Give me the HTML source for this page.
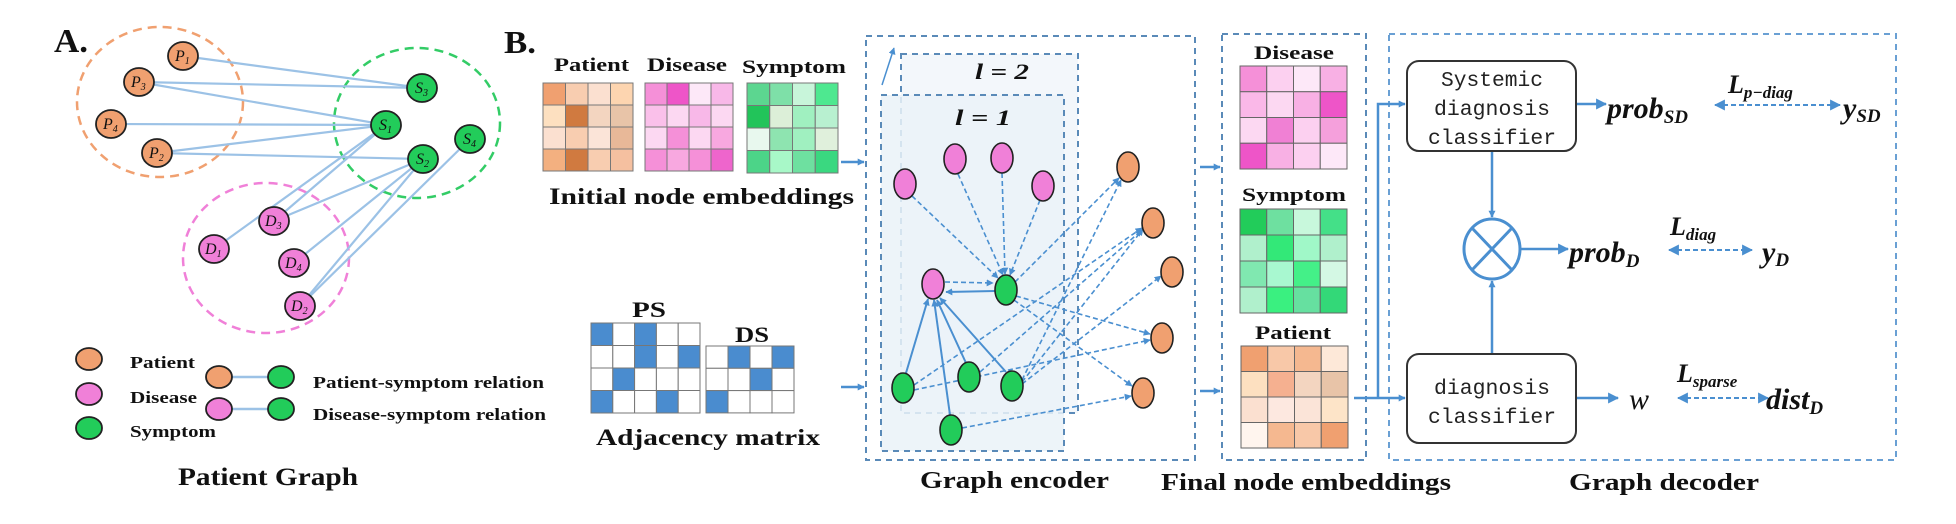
<!DOCTYPE html>
<html><head><meta charset="utf-8"><style>
html,body{margin:0;padding:0;background:#fff;}
svg{display:block;}
text{font-family:"Liberation Serif",serif;font-weight:bold;fill:#111;}
.mono{font-family:"Liberation Mono",monospace;font-weight:normal;fill:#222;}
.nl{font-style:italic;font-weight:normal;}
</style></head><body>
<svg width="1956" height="524" viewBox="0 0 1956 524" xmlns="http://www.w3.org/2000/svg">
<defs>
<marker id="ah" viewBox="0 0 10 10" refX="9" refY="5" markerWidth="7" markerHeight="7" orient="auto-start-reverse" markerUnits="userSpaceOnUse"><path d="M0,0 L10,5 L0,10 z" fill="#4a8fd0"/></marker>
<marker id="ahs" viewBox="0 0 10 10" refX="9" refY="5" markerWidth="11" markerHeight="11" orient="auto-start-reverse" markerUnits="userSpaceOnUse"><path d="M0,0 L10,5 L0,10 z" fill="#4a8fd0"/></marker>
</defs>

<!-- ===== Part A ===== -->
<text x="54" y="52" font-size="34" textLength="34" lengthAdjust="spacingAndGlyphs">A.</text>
<g fill="none" stroke-width="2.5" stroke-dasharray="9,6">
<ellipse cx="160" cy="102" rx="83" ry="75" stroke="#f0a070"/>
<ellipse cx="417" cy="123" rx="83" ry="75" stroke="#33cc66"/>
<ellipse cx="266" cy="258" rx="83" ry="75" stroke="#f080d8"/>
</g>
<g stroke="#9cc2e6" stroke-width="2.2">
<line x1="183" y1="56" x2="422" y2="88"/>
<line x1="139" y1="82" x2="422" y2="88"/>
<line x1="139" y1="82" x2="386" y2="125"/>
<line x1="111" y1="124" x2="386" y2="125"/>
<line x1="157" y1="153" x2="386" y2="125"/>
<line x1="157" y1="153" x2="423" y2="159"/>
<line x1="386" y1="125" x2="274" y2="221"/>
<line x1="386" y1="125" x2="214" y2="249"/>
<line x1="423" y1="159" x2="274" y2="221"/>
<line x1="423" y1="159" x2="294" y2="263"/>
<line x1="423" y1="159" x2="300" y2="306"/>
<line x1="470" y1="139" x2="300" y2="306"/>
</g>
<g stroke="#222" stroke-width="1.8">
<ellipse cx="183" cy="56" rx="15" ry="14" fill="#f0a070"/>
<ellipse cx="139" cy="82" rx="15" ry="14" fill="#f0a070"/>
<ellipse cx="111" cy="124" rx="15" ry="14" fill="#f0a070"/>
<ellipse cx="157" cy="153" rx="15" ry="14" fill="#f0a070"/>
<ellipse cx="422" cy="88" rx="15" ry="14" fill="#22cc5a"/>
<ellipse cx="386" cy="125" rx="15" ry="14" fill="#22cc5a"/>
<ellipse cx="470" cy="139" rx="15" ry="14" fill="#22cc5a"/>
<ellipse cx="423" cy="159" rx="15" ry="14" fill="#22cc5a"/>
<ellipse cx="274" cy="221" rx="15" ry="14" fill="#f080d8"/>
<ellipse cx="214" cy="249" rx="15" ry="14" fill="#f080d8"/>
<ellipse cx="294" cy="263" rx="15" ry="14" fill="#f080d8"/>
<ellipse cx="300" cy="306" rx="15" ry="14" fill="#f080d8"/>
</g>
<g font-size="16">
<text class="nl" x="175" y="61">P<tspan font-size="10" dy="3">1</tspan></text>
<text class="nl" x="131" y="87">P<tspan font-size="10" dy="3">3</tspan></text>
<text class="nl" x="103" y="129">P<tspan font-size="10" dy="3">4</tspan></text>
<text class="nl" x="149" y="158">P<tspan font-size="10" dy="3">2</tspan></text>
<text class="nl" x="415" y="93">S<tspan font-size="10" dy="3">3</tspan></text>
<text class="nl" x="379" y="130">S<tspan font-size="10" dy="3">1</tspan></text>
<text class="nl" x="463" y="144">S<tspan font-size="10" dy="3">4</tspan></text>
<text class="nl" x="416" y="164">S<tspan font-size="10" dy="3">2</tspan></text>
<text class="nl" x="265" y="226">D<tspan font-size="10" dy="3">3</tspan></text>
<text class="nl" x="205" y="254">D<tspan font-size="10" dy="3">1</tspan></text>
<text class="nl" x="285" y="268">D<tspan font-size="10" dy="3">4</tspan></text>
<text class="nl" x="291" y="311">D<tspan font-size="10" dy="3">2</tspan></text>
</g>
<!-- legend -->
<g stroke="#222" stroke-width="1.8">
<ellipse cx="89" cy="359" rx="13" ry="11" fill="#f0a070"/>
<ellipse cx="89" cy="394" rx="13" ry="11" fill="#f080d8"/>
<ellipse cx="89" cy="428" rx="13" ry="11" fill="#22cc5a"/>
</g>
<g stroke="#9cc2e6" stroke-width="2.5"><line x1="219" y1="377" x2="281" y2="377"/><line x1="219" y1="409" x2="281" y2="409"/></g>
<g stroke="#222" stroke-width="1.8">
<ellipse cx="219" cy="377" rx="13" ry="11" fill="#f0a070"/>
<ellipse cx="281" cy="377" rx="13" ry="11" fill="#22cc5a"/>
<ellipse cx="219" cy="409" rx="13" ry="11" fill="#f080d8"/>
<ellipse cx="281" cy="409" rx="13" ry="11" fill="#22cc5a"/>
</g>
<g font-size="17">
<text x="130" y="368" textLength="65" lengthAdjust="spacingAndGlyphs">Patient</text>
<text x="130" y="403" textLength="67" lengthAdjust="spacingAndGlyphs">Disease</text>
<text x="130" y="437" textLength="86" lengthAdjust="spacingAndGlyphs">Symptom</text>
<text x="313" y="388" textLength="231" lengthAdjust="spacingAndGlyphs">Patient-symptom relation</text>
<text x="313" y="420" textLength="233" lengthAdjust="spacingAndGlyphs">Disease-symptom relation</text>
</g>
<text x="178" y="485" font-size="25" textLength="180" lengthAdjust="spacingAndGlyphs">Patient Graph</text>

<!-- ===== Part B ===== -->
<text x="504" y="53" font-size="32" textLength="32" lengthAdjust="spacingAndGlyphs">B.</text>
<g font-size="19">
<text x="554" y="71" textLength="75" lengthAdjust="spacingAndGlyphs">Patient</text>
<text x="647" y="71" textLength="80" lengthAdjust="spacingAndGlyphs">Disease</text>
<text x="742" y="73" textLength="104" lengthAdjust="spacingAndGlyphs">Symptom</text>
</g>
<g stroke="#777" stroke-width="1">
<rect x="543" y="83" width="22.5" height="22" fill="#f0a070"/><rect x="565.5" y="83" width="22.5" height="22" fill="#f8cdb0"/><rect x="588" y="83" width="22.5" height="22" fill="#fbe0d0"/><rect x="610.5" y="83" width="22.5" height="22" fill="#fdd5b0"/>
<rect x="543" y="105" width="22.5" height="22" fill="#fde0c0"/><rect x="565.5" y="105" width="22.5" height="22" fill="#d07a40"/><rect x="588" y="105" width="22.5" height="22" fill="#f3d5c0"/><rect x="610.5" y="105" width="22.5" height="22" fill="#e8c4a8"/>
<rect x="543" y="127" width="22.5" height="22" fill="#fbe0d0"/><rect x="565.5" y="127" width="22.5" height="22" fill="#f8cdb0"/><rect x="588" y="127" width="22.5" height="22" fill="#fbe4d8"/><rect x="610.5" y="127" width="22.5" height="22" fill="#e8b898"/>
<rect x="543" y="149" width="22.5" height="22" fill="#f3b080"/><rect x="565.5" y="149" width="22.5" height="22" fill="#d07a40"/><rect x="588" y="149" width="22.5" height="22" fill="#f8cdb0"/><rect x="610.5" y="149" width="22.5" height="22" fill="#f5c0a0"/>
<rect x="645" y="83" width="22" height="22" fill="#f590d8"/><rect x="667" y="83" width="22" height="22" fill="#ee55c8"/><rect x="689" y="83" width="22" height="22" fill="#fde8f8"/><rect x="711" y="83" width="22" height="22" fill="#f8b8e8"/>
<rect x="645" y="105" width="22" height="22" fill="#fac0ea"/><rect x="667" y="105" width="22" height="22" fill="#fcd8f2"/><rect x="689" y="105" width="22" height="22" fill="#f8b8e8"/><rect x="711" y="105" width="22" height="22" fill="#fcd8f2"/>
<rect x="645" y="127" width="22" height="22" fill="#fcd8f2"/><rect x="667" y="127" width="22" height="22" fill="#f590d8"/><rect x="689" y="127" width="22" height="22" fill="#fcd8f2"/><rect x="711" y="127" width="22" height="22" fill="#f8a8e0"/>
<rect x="645" y="149" width="22" height="22" fill="#f590d8"/><rect x="667" y="149" width="22" height="22" fill="#f8a8e0"/><rect x="689" y="149" width="22" height="22" fill="#f590d8"/><rect x="711" y="149" width="22" height="22" fill="#ee65cc"/>
<rect x="747" y="83" width="22.75" height="22.5" fill="#5cd690"/><rect x="769.75" y="83" width="22.75" height="22.5" fill="#7ee0a8"/><rect x="792.5" y="83" width="22.75" height="22.5" fill="#c8f5da"/><rect x="815.25" y="83" width="22.75" height="22.5" fill="#4ee890"/>
<rect x="747" y="105.5" width="22.75" height="22.5" fill="#22c45a"/><rect x="769.75" y="105.5" width="22.75" height="22.5" fill="#dcefd8"/><rect x="792.5" y="105.5" width="22.75" height="22.5" fill="#a0f0c0"/><rect x="815.25" y="105.5" width="22.75" height="22.5" fill="#b8f0d0"/>
<rect x="747" y="128" width="22.75" height="22.5" fill="#e8f8ee"/><rect x="769.75" y="128" width="22.75" height="22.5" fill="#8ee4b0"/><rect x="792.5" y="128" width="22.75" height="22.5" fill="#a0f0c0"/><rect x="815.25" y="128" width="22.75" height="22.5" fill="#e0f0dc"/>
<rect x="747" y="150.5" width="22.75" height="22.5" fill="#4cd488"/><rect x="769.75" y="150.5" width="22.75" height="22.5" fill="#a8f8c8"/><rect x="792.5" y="150.5" width="22.75" height="22.5" fill="#6ee0a0"/><rect x="815.25" y="150.5" width="22.75" height="22.5" fill="#3ad880"/>
</g>
<text x="549" y="204" font-size="23" textLength="305" lengthAdjust="spacingAndGlyphs">Initial node embeddings</text>

<!-- adjacency -->
<text x="632" y="317" font-size="22" textLength="34" lengthAdjust="spacingAndGlyphs">PS</text>
<text x="735" y="342" font-size="22" textLength="34" lengthAdjust="spacingAndGlyphs">DS</text>
<g stroke="#777" stroke-width="1" fill="#fff">
<rect x="591" y="323" width="21.8" height="22.5" fill="#4a8ccf"/><rect x="612.8" y="323" width="21.8" height="22.5"/><rect x="634.6" y="323" width="21.8" height="22.5" fill="#4a8ccf"/><rect x="656.4" y="323" width="21.8" height="22.5"/><rect x="678.2" y="323" width="21.8" height="22.5"/>
<rect x="591" y="345.5" width="21.8" height="22.5"/><rect x="612.8" y="345.5" width="21.8" height="22.5"/><rect x="634.6" y="345.5" width="21.8" height="22.5" fill="#4a8ccf"/><rect x="656.4" y="345.5" width="21.8" height="22.5"/><rect x="678.2" y="345.5" width="21.8" height="22.5" fill="#4a8ccf"/>
<rect x="591" y="368" width="21.8" height="22.5"/><rect x="612.8" y="368" width="21.8" height="22.5" fill="#4a8ccf"/><rect x="634.6" y="368" width="21.8" height="22.5"/><rect x="656.4" y="368" width="21.8" height="22.5"/><rect x="678.2" y="368" width="21.8" height="22.5"/>
<rect x="591" y="390.5" width="21.8" height="22.5" fill="#4a8ccf"/><rect x="612.8" y="390.5" width="21.8" height="22.5"/><rect x="634.6" y="390.5" width="21.8" height="22.5"/><rect x="656.4" y="390.5" width="21.8" height="22.5" fill="#4a8ccf"/><rect x="678.2" y="390.5" width="21.8" height="22.5"/>
<rect x="706" y="346" width="22" height="22.3"/><rect x="728" y="346" width="22" height="22.3" fill="#4a8ccf"/><rect x="750" y="346" width="22" height="22.3"/><rect x="772" y="346" width="22" height="22.3" fill="#4a8ccf"/>
<rect x="706" y="368.3" width="22" height="22.3"/><rect x="728" y="368.3" width="22" height="22.3"/><rect x="750" y="368.3" width="22" height="22.3" fill="#4a8ccf"/><rect x="772" y="368.3" width="22" height="22.3"/>
<rect x="706" y="390.6" width="22" height="22.3" fill="#4a8ccf"/><rect x="728" y="390.6" width="22" height="22.3"/><rect x="750" y="390.6" width="22" height="22.3"/><rect x="772" y="390.6" width="22" height="22.3"/>
</g>
<text x="596" y="445" font-size="23" textLength="224" lengthAdjust="spacingAndGlyphs">Adjacency matrix</text>

<g stroke="#4a8fd0" stroke-width="2.5" fill="none">
<line x1="841" y1="162" x2="864" y2="162" marker-end="url(#ah)"/>
<line x1="841" y1="387" x2="864" y2="387" marker-end="url(#ah)"/>
</g>

<!-- encoder boxes -->
<rect x="901" y="54" width="177" height="359" fill="#f3f7fb" stroke="#5a8ab8" stroke-width="2" stroke-dasharray="6,5"/>
<rect x="881" y="95" width="183" height="356" fill="#eaf2f8" fill-opacity="0.85" stroke="#5a8ab8" stroke-width="2" stroke-dasharray="6,5"/>
<rect x="866" y="36" width="329" height="424" fill="none" stroke="#5a8ab8" stroke-width="2" stroke-dasharray="6,5"/>
<line x1="882" y1="85" x2="894" y2="48" stroke="#4a8fd0" stroke-width="1.5" marker-end="url(#ah)"/>
<text x="975" y="79" font-size="22" font-style="italic" textLength="54" lengthAdjust="spacingAndGlyphs">l = 2</text>
<text x="955" y="125" font-size="22" font-style="italic" textLength="56" lengthAdjust="spacingAndGlyphs">l = 1</text>

<g stroke="#4a8fd0" stroke-width="1.6" fill="none" stroke-dasharray="5,3" marker-end="url(#ah)">
<line x1="912" y1="196" x2="998" y2="278"/>
<line x1="958" y1="174" x2="1003" y2="275"/>
<line x1="1002" y1="173" x2="1005" y2="274"/>
<line x1="1040" y1="200" x2="1010" y2="275"/>
<line x1="945" y1="282" x2="993" y2="283"/>
<line x1="1015" y1="282" x2="1119" y2="178"/>
<line x1="1016" y1="296" x2="1150" y2="334"/>
<line x1="1014" y1="300" x2="1132" y2="386"/>
<line x1="914" y1="385" x2="1142" y2="228"/>
<line x1="914" y1="390" x2="1150" y2="340"/>
<line x1="980" y1="372" x2="1142" y2="230"/>
<line x1="1022" y1="380" x2="1121" y2="180"/>
<line x1="1022" y1="382" x2="1143" y2="229"/>
<line x1="1022" y1="384" x2="1161" y2="276"/>
<line x1="962" y1="428" x2="1131" y2="396"/>
</g>
<g stroke="#4a8fd0" stroke-width="2" fill="none" marker-end="url(#ah)">
<line x1="995" y1="291" x2="946" y2="292"/>
<line x1="906" y1="373" x2="928" y2="299"/>
<line x1="966" y1="363" x2="937" y2="300"/>
<line x1="1006" y1="372" x2="940" y2="298"/>
<line x1="950" y1="415" x2="934" y2="300"/>
</g>
<g stroke="#222" stroke-width="1.6">
<ellipse cx="905" cy="184" rx="11" ry="15" fill="#f080d8"/>
<ellipse cx="955" cy="159" rx="11" ry="15" fill="#f080d8"/>
<ellipse cx="1002" cy="158" rx="11" ry="15" fill="#f080d8"/>
<ellipse cx="1043" cy="186" rx="11" ry="15" fill="#f080d8"/>
<ellipse cx="933" cy="284" rx="11" ry="15" fill="#f080d8"/>
<ellipse cx="1006" cy="290" rx="11" ry="15" fill="#22cc5a"/>
<ellipse cx="903" cy="388" rx="11" ry="15" fill="#22cc5a"/>
<ellipse cx="969" cy="377" rx="11" ry="15" fill="#22cc5a"/>
<ellipse cx="1012" cy="386" rx="11" ry="15" fill="#22cc5a"/>
<ellipse cx="951" cy="430" rx="11" ry="15" fill="#22cc5a"/>
<ellipse cx="1128" cy="167" rx="11" ry="15" fill="#f0a070"/>
<ellipse cx="1153" cy="223" rx="11" ry="15" fill="#f0a070"/>
<ellipse cx="1172" cy="272" rx="11" ry="15" fill="#f0a070"/>
<ellipse cx="1162" cy="338" rx="11" ry="15" fill="#f0a070"/>
<ellipse cx="1143" cy="393" rx="11" ry="15" fill="#f0a070"/>
</g>
<text x="920" y="488" font-size="24" textLength="189" lengthAdjust="spacingAndGlyphs">Graph encoder</text>

<g stroke="#4a8fd0" stroke-width="2.5" fill="none">
<line x1="1200" y1="167" x2="1220" y2="167" marker-end="url(#ah)"/>
<line x1="1200" y1="391" x2="1220" y2="391" marker-end="url(#ah)"/>
</g>

<!-- final embeddings -->
<rect x="1222" y="34" width="144" height="426" fill="none" stroke="#5a8ab8" stroke-width="2" stroke-dasharray="6,5"/>
<g font-size="19">
<text x="1254" y="59" textLength="80" lengthAdjust="spacingAndGlyphs">Disease</text>
<text x="1242" y="201" textLength="104" lengthAdjust="spacingAndGlyphs">Symptom</text>
<text x="1255" y="339" textLength="76" lengthAdjust="spacingAndGlyphs">Patient</text>
</g>
<g stroke="#666" stroke-width="1">
<rect x="1240" y="66" width="26.75" height="25.75" fill="#f590d8"/><rect x="1266.75" y="66" width="26.75" height="25.75" fill="#fcd0f0"/><rect x="1293.5" y="66" width="26.75" height="25.75" fill="#fde8f8"/><rect x="1320.25" y="66" width="26.75" height="25.75" fill="#f8b0e4"/>
<rect x="1240" y="91.75" width="26.75" height="25.75" fill="#fab8e8"/><rect x="1266.75" y="91.75" width="26.75" height="25.75" fill="#fcd8f2"/><rect x="1293.5" y="91.75" width="26.75" height="25.75" fill="#f8b0e4"/><rect x="1320.25" y="91.75" width="26.75" height="25.75" fill="#ee55c8"/>
<rect x="1240" y="117.5" width="26.75" height="25.75" fill="#fcd8f2"/><rect x="1266.75" y="117.5" width="26.75" height="25.75" fill="#f080d4"/><rect x="1293.5" y="117.5" width="26.75" height="25.75" fill="#fcd0f0"/><rect x="1320.25" y="117.5" width="26.75" height="25.75" fill="#f5a0dc"/>
<rect x="1240" y="143.25" width="26.75" height="25.75" fill="#ee55c8"/><rect x="1266.75" y="143.25" width="26.75" height="25.75" fill="#f8b0e4"/><rect x="1293.5" y="143.25" width="26.75" height="25.75" fill="#fcd0f0"/><rect x="1320.25" y="143.25" width="26.75" height="25.75" fill="#fde8f8"/>
<rect x="1240" y="209" width="26.75" height="26" fill="#22cc5a"/><rect x="1266.75" y="209" width="26.75" height="26" fill="#6ee0a0"/><rect x="1293.5" y="209" width="26.75" height="26" fill="#c8f8dc"/><rect x="1320.25" y="209" width="26.75" height="26" fill="#44e088"/>
<rect x="1240" y="235" width="26.75" height="26" fill="#b0f0cc"/><rect x="1266.75" y="235" width="26.75" height="26" fill="#33e878"/><rect x="1293.5" y="235" width="26.75" height="26" fill="#a0f8c8"/><rect x="1320.25" y="235" width="26.75" height="26" fill="#b0f0cc"/>
<rect x="1240" y="261" width="26.75" height="26" fill="#80e8b0"/><rect x="1266.75" y="261" width="26.75" height="26" fill="#a8f8d0"/><rect x="1293.5" y="261" width="26.75" height="26" fill="#44f088"/><rect x="1320.25" y="261" width="26.75" height="26" fill="#d4f8e4"/>
<rect x="1240" y="287" width="26.75" height="26" fill="#b0f0cc"/><rect x="1266.75" y="287" width="26.75" height="26" fill="#3af080"/><rect x="1293.5" y="287" width="26.75" height="26" fill="#66e0a0"/><rect x="1320.25" y="287" width="26.75" height="26" fill="#33d878"/>
<rect x="1241" y="346" width="26.75" height="25.5" fill="#f0a070"/><rect x="1267.75" y="346" width="26.75" height="25.5" fill="#f8c8a8"/><rect x="1294.5" y="346" width="26.75" height="25.5" fill="#f5b890"/><rect x="1321.25" y="346" width="26.75" height="25.5" fill="#fde8d8"/>
<rect x="1241" y="371.5" width="26.75" height="25.5" fill="#fde0c0"/><rect x="1267.75" y="371.5" width="26.75" height="25.5" fill="#f5b090"/><rect x="1294.5" y="371.5" width="26.75" height="25.5" fill="#f3d5c0"/><rect x="1321.25" y="371.5" width="26.75" height="25.5" fill="#e8c4a8"/>
<rect x="1241" y="397" width="26.75" height="25.5" fill="#fbe0d0"/><rect x="1267.75" y="397" width="26.75" height="25.5" fill="#fde8e0"/><rect x="1294.5" y="397" width="26.75" height="25.5" fill="#fbe4d8"/><rect x="1321.25" y="397" width="26.75" height="25.5" fill="#fde4c8"/>
<rect x="1241" y="422.5" width="26.75" height="25.5" fill="#fff5ee"/><rect x="1267.75" y="422.5" width="26.75" height="25.5" fill="#f5b890"/><rect x="1294.5" y="422.5" width="26.75" height="25.5" fill="#f8c8a8"/><rect x="1321.25" y="422.5" width="26.75" height="25.5" fill="#f0a070"/>
</g>
<text x="1161" y="490" font-size="24" textLength="290" lengthAdjust="spacingAndGlyphs">Final node embeddings</text>

<!-- decoder -->
<rect x="1389" y="34" width="507" height="426" fill="none" stroke="#6aa0d4" stroke-width="2" stroke-dasharray="6,5"/>
<g stroke="#4a8fd0" stroke-width="2.5" fill="none">
<line x1="1354" y1="398" x2="1405" y2="398" marker-end="url(#ah)"/>
<polyline points="1378,398 1378,104 1405,104" marker-end="url(#ah)"/>
<line x1="1492" y1="151" x2="1492" y2="217" marker-end="url(#ah)"/>
<line x1="1492" y1="354" x2="1492" y2="281" marker-end="url(#ah)"/>
<line x1="1577" y1="104" x2="1606" y2="104" marker-end="url(#ahs)"/>
<line x1="1520" y1="249" x2="1568" y2="249" marker-end="url(#ahs)"/>
<line x1="1577" y1="398" x2="1618" y2="398" marker-end="url(#ahs)"/>
</g>
<g stroke="#4a8fd0" stroke-width="2" fill="none" stroke-dasharray="5,3">
<line x1="1715" y1="105" x2="1840" y2="105" marker-start="url(#ahs)" marker-end="url(#ahs)"/>
<line x1="1669" y1="250" x2="1752" y2="250" marker-start="url(#ahs)" marker-end="url(#ahs)"/>
<line x1="1678" y1="398" x2="1768" y2="398" marker-start="url(#ahs)" marker-end="url(#ahs)"/>
</g>
<rect x="1407" y="61" width="169" height="90" rx="12" fill="#fff" stroke="#333" stroke-width="2"/>
<rect x="1407" y="354" width="169" height="89" rx="12" fill="#fff" stroke="#333" stroke-width="2"/>
<ellipse cx="1492" cy="249" rx="28" ry="30" fill="#fff" stroke="#4a8fd0" stroke-width="3"/>
<g stroke="#4a8fd0" stroke-width="3"><line x1="1472" y1="228" x2="1512" y2="270"/><line x1="1512" y1="228" x2="1472" y2="270"/></g>
<g font-size="21">
<text class="mono" x="1441" y="86" textLength="102" lengthAdjust="spacingAndGlyphs">Systemic</text>
<text class="mono" x="1434" y="115" textLength="116" lengthAdjust="spacingAndGlyphs">diagnosis</text>
<text class="mono" x="1428" y="144" textLength="128" lengthAdjust="spacingAndGlyphs">classifier</text>
<text class="mono" x="1434" y="394" textLength="116" lengthAdjust="spacingAndGlyphs">diagnosis</text>
<text class="mono" x="1428" y="423" textLength="128" lengthAdjust="spacingAndGlyphs">classifier</text>
</g>
<g font-style="italic">
<text x="1607" y="118" font-size="30" style="font-style:italic">prob<tspan font-size="19" dy="5">SD</tspan></text>
<text x="1728" y="93" font-size="26" style="font-style:italic">L<tspan font-size="17" dy="5">p−diag</tspan></text>
<text x="1843" y="118" font-size="30" style="font-style:italic">y<tspan font-size="19" dy="4">SD</tspan></text>
<text x="1569" y="262" font-size="30" style="font-style:italic">prob<tspan font-size="19" dy="5">D</tspan></text>
<text x="1670" y="235" font-size="26" style="font-style:italic">L<tspan font-size="17" dy="5">diag</tspan></text>
<text x="1762" y="262" font-size="30" style="font-style:italic">y<tspan font-size="19" dy="4">D</tspan></text>
<text x="1629" y="409" font-size="30" style="font-style:italic;font-weight:normal">w</text>
<text x="1677" y="382" font-size="26" style="font-style:italic">L<tspan font-size="17" dy="5">sparse</tspan></text>
<text x="1766" y="409" font-size="30" style="font-style:italic">dist<tspan font-size="19" dy="5">D</tspan></text>
</g>
<text x="1569" y="490" font-size="24" textLength="190" lengthAdjust="spacingAndGlyphs">Graph decoder</text>
</svg>
</body></html>
